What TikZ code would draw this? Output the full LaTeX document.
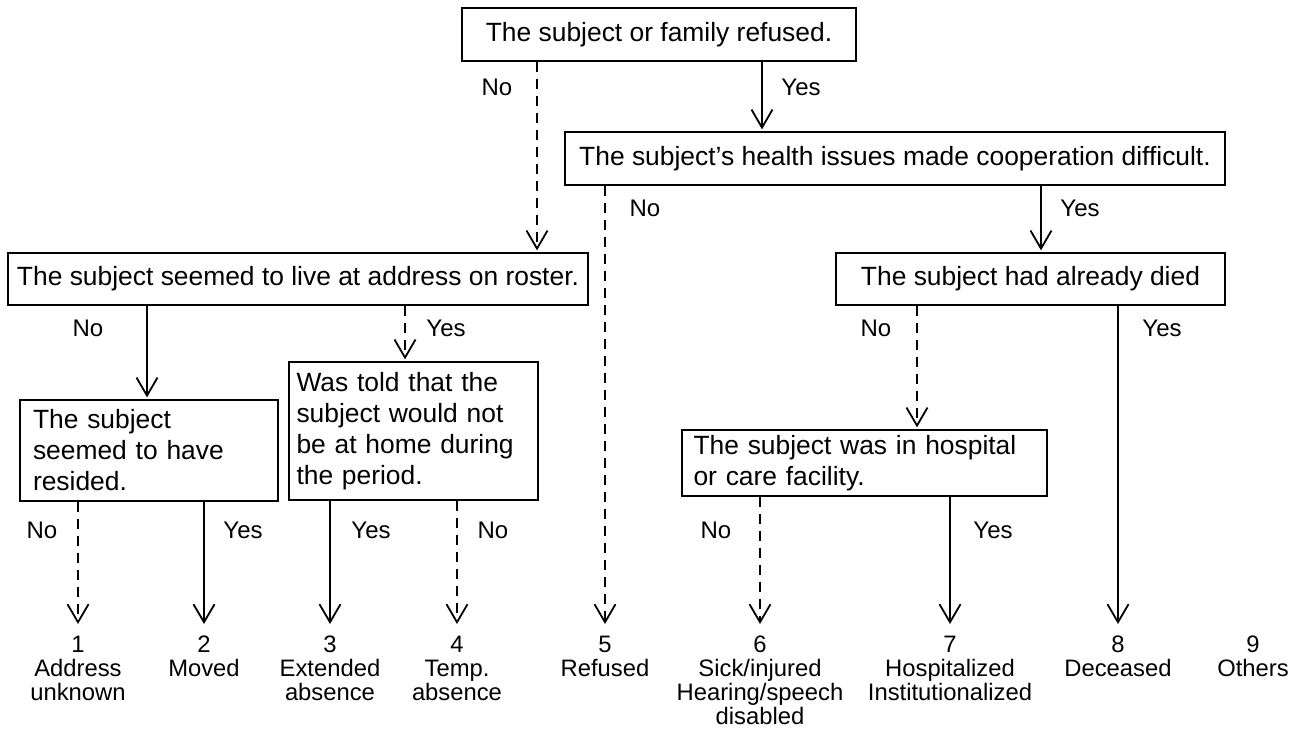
\documentclass[tikz,border=0pt]{standalone}
\usepackage{fontspec}
\setmainfont{Liberation Sans}
\usetikzlibrary{arrows.meta}
\newcommand{\tightlines}{\lineskiplimit-20pt\relax}
\begin{document}
\begin{tikzpicture}[x=1pt,y=-1pt,
  box/.style={draw,line width=1.3pt,inner sep=0pt,font=\fontsize{26.4}{31}\selectfont\tightlines},
  lbox/.style={box,align=left},
  yn/.style={font=\fontsize{24}{28}\selectfont},
  res/.style={anchor=north,align=center,inner sep=0pt,font=\fontsize{23.8}{23.8}\selectfont\tightlines},
  solidarrow/.style={line width=1.8pt,shorten >=2pt,-{Straight Barb[length=18pt,width=21pt,line width=1.8pt]}},
  dasharrow/.style={solidarrow,dash pattern=on 10pt off 7pt},
  toresult/.style={shorten >=12pt}]
\useasboundingbox (0,0) rectangle (1291,729);
% boxes
\node[box,minimum width=394pt,minimum height=53pt] (b1) at (659,34.5) {The subject or family refused.};
\node[box,minimum width=660pt,minimum height=53pt] (b2) at (895,158.5) {The subject’s health issues made cooperation difficult.};
\node[box,minimum width=580pt,minimum height=52pt] (b3) at (298,279) {The subject seemed to live at address on roster.};
\node[box,minimum width=389pt,minimum height=52pt] (b6) at (1030.5,279) {The subject had already died};
\node[lbox,text width=232pt,minimum width=258pt,minimum height=101pt] (b4) at (149,450.5) {The subject\\seemed to have\\resided.};
\node[lbox,text width=234pt,minimum width=249pt,minimum height=138pt] (b5) at (413.5,431) {Was told that the\\subject would not\\be at home during\\the period.};
\node[lbox,text width=342pt,minimum width=365pt,minimum height=66pt] (b7) at (864.5,463) {The subject was in hospital\\or care facility.};
% results
\node[res] (r1) at (78,636) {1\\Address\\unknown};
\node[res] (r2) at (204,636) {2\\Moved};
\node[res] (r3) at (330,636) {3\\Extended\\absence};
\node[res] (r4) at (457,636) {4\\Temp.\\absence};
\node[res] (r5) at (605,636) {5\\Refused};
\node[res] (r6) at (760,636) {6\\Sick/injured\\Hearing/speech\\disabled};
\node[res] (r7) at (950,636) {7\\Hospitalized\\Institutionalized};
\node[res] (r8) at (1118,636) {8\\Deceased};
\node[res] (r9) at (1253,636) {9\\Others};
% connectors
\draw[dasharrow] (b1.south -| 537,0) -- (b3.north -| 537,0);
\draw[solidarrow] (b1.south -| 762,0) -- (b2.north -| 762,0);
\draw[dasharrow,toresult] (b2.south -| 605,0) -- (r5.north);
\draw[solidarrow] (b2.south -| 1041,0) -- (b6.north -| 1041,0);
\draw[solidarrow] (b3.south -| 147,0) -- (b4.north -| 147,0);
\draw[dasharrow] (b3.south -| 405,0) -- (b5.north -| 405,0);
\draw[dasharrow] (b6.south -| 917,0) -- (b7.north -| 917,0);
\draw[solidarrow,toresult] (b6.south -| 1118,0) -- (r8.north);
\draw[dasharrow,toresult] (b4.south -| 78,0) -- (r1.north);
\draw[solidarrow,toresult] (b4.south -| 204,0) -- (r2.north);
\draw[solidarrow,toresult] (b5.south -| 330,0) -- (r3.north);
\draw[dasharrow,toresult] (b5.south -| 457,0) -- (r4.north);
\draw[dasharrow,toresult] (b7.south -| 760,0) -- (r6.north);
\draw[solidarrow,toresult] (b7.south -| 950,0) -- (r7.north);
% labels
\node[yn] (n1) at (497,87) {No};
\node[yn] (y1) at (801,87) {Yes};
\node[yn] (n2) at (645,208) {No};
\node[yn] (y2) at (1080,208) {Yes};
\node[yn] (n3) at (88,328) {No};
\node[yn] (y3) at (446,328) {Yes};
\node[yn] (n6) at (876,328) {No};
\node[yn] (y6) at (1162,328) {Yes};
\node[yn] (n4) at (42,530) {No};
\node[yn] (y4) at (243,530) {Yes};
\node[yn] (y5) at (371,530) {Yes};
\node[yn] (n5) at (493,530) {No};
\node[yn] (n7) at (716,530) {No};
\node[yn] (y7) at (993,530) {Yes};
\end{tikzpicture}
\end{document}
